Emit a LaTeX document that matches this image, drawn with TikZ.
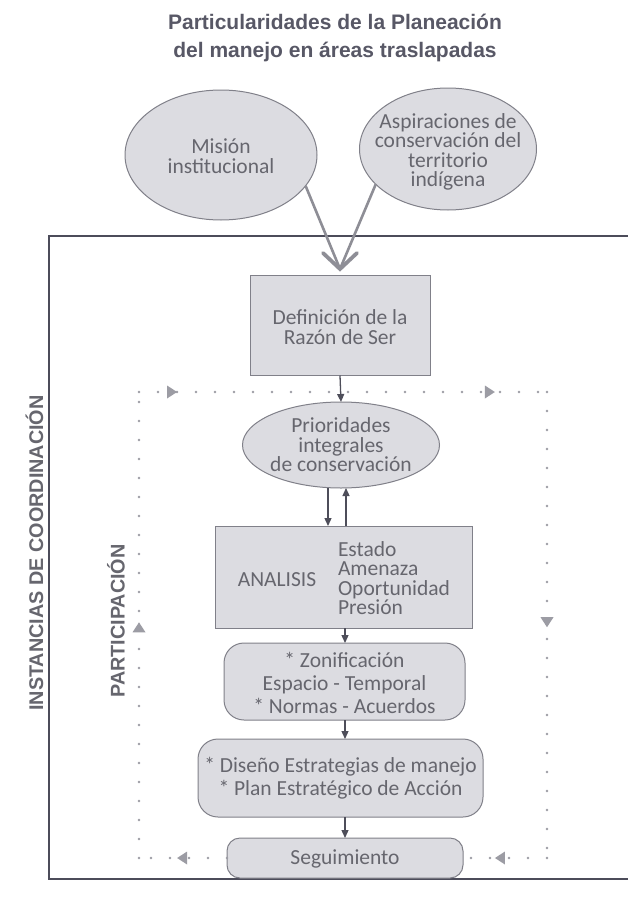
\documentclass[tikz,border=0pt]{standalone}
\usepackage{fontspec}
\setmainfont{Carlito}
\newfontfamily\arialf{Liberation Sans}
\usetikzlibrary{shapes.geometric,arrows.meta,decorations.markings,calc}
\definecolor{txt}{HTML}{66666E}
\definecolor{fillg}{HTML}{DCDCE1}
\definecolor{edge}{HTML}{808089}
\definecolor{dark}{HTML}{4E4E5A}
\definecolor{titlec}{HTML}{585866}
\definecolor{chev}{HTML}{8E8E96}
\definecolor{dotc}{HTML}{9C9CA4}
\definecolor{frame}{HTML}{4C4C5A}
\begin{document}
\begin{tikzpicture}[x=1pt,y=-1pt,
  every node/.style={inner sep=0pt, outer sep=0pt},
  bodytext/.style={font=\fontsize{21.5}{19.5}\selectfont, text=txt, align=center},
  looseText/.style={font=\fontsize{21.5}{23}\selectfont, text=txt, align=center},
  ell/.style={ellipse, draw=edge, fill=fillg, line width=1pt},
  sqbox/.style={rectangle, draw=edge, fill=fillg, line width=1pt},
  rbox/.style={rectangle, rounded corners=20pt, draw=edge, fill=fillg, line width=1pt},
  flow/.style={-{Triangle[length=8pt,width=7pt]}, draw=dark, line width=1.3pt},
  feed/.style={draw=chev, line width=2.6pt},
  dots/.style={draw=dotc, line width=2.8pt, line cap=round, dash pattern=on 0pt off 19pt},
  tri/.style={postaction={decorate}, decoration={markings, mark=at position #1 with {\fill[dotc] (5pt,0pt) -- (-5pt,6.5pt) -- (-5pt,-6.5pt) -- cycle;}}},
  tritwo/.style 2 args={postaction={decorate}, decoration={markings,
     mark=at position #1 with {\fill[dotc] (5pt,0pt) -- (-5pt,6.5pt) -- (-5pt,-6.5pt) -- cycle;},
     mark=at position #2 with {\fill[dotc] (5pt,0pt) -- (-5pt,6.5pt) -- (-5pt,-6.5pt) -- cycle;}}},
  vtext/.style={font=\arialf\bfseries\fontsize{19.8}{24}\selectfont, text=txt, rotate=90},
]
\useasboundingbox (0,0) rectangle (628,899);
\fill[white] (0,0) rectangle (628,899);

% title
\node[font=\arialf\bfseries\fontsize{21}{28}\selectfont, text=titlec, align=center] (title) at (335,38)
  {Particularidades de la Planeación\\del manejo en áreas traslapadas};

% outer frame (instancias de coordinación)
\draw[frame, line width=1.8pt] (628,236) -- (49,236) -- (49,879) -- (628,879);
\node[vtext] (inst) at (34.5,553) {INSTANCIAS DE COORDINACIÓN};
\node[vtext] (part) at (116,621) {PARTICIPACIÓN};

% top ellipses
\node[ell, minimum width=192pt, minimum height=130pt] (mis) at (221,155) {};
\node[bodytext] (mist) at (221,156) {Misión\\institucional};
\node[ell, minimum width=177pt, minimum height=122pt] (asp) at (448,149) {};
\node[bodytext] (aspt) at (448,152) {Aspiraciones de\\conservación del\\territorio\\indígena};

\coordinate (tip) at (340,269);
\draw[feed] (mis.-20) -- (tip);
\draw[feed] (asp.-154) -- (tip);
\draw[feed, line width=3.8pt, line cap=round] ($(tip)+(-17,-16)$) -- (tip) -- ($(tip)+(17,-16)$);

% dotted participation loop
\coordinate (tl) at (139,392);
\coordinate (tr) at (547,392);
\coordinate (br) at (547,858);
\coordinate (bl) at (139,858);

% boxes
\node[sqbox, minimum width=180pt, minimum height=100pt] (def) at (340,325.5) {};
\node[bodytext] (deft) at (340,327) {Definición de la\\Razón de Ser};

\draw[dots, tritwo={0.081}{0.86}] (tl) -- (tr);
\draw[dots, tri=0.494] (tr) -- (br);

\node[ell, minimum width=197pt, minimum height=86pt] (prio) at (341,445) {};
\node[bodytext] (priot) at (341,445) {Prioridades\\integrales\\de conservación};

\node[sqbox, minimum width=257pt, minimum height=102pt] (ana) at (343.5,577) {};
\node[bodytext] (anat) at (277,580) {ANALISIS};
\node[bodytext, align=left, anchor=west] (anal) at (338,578) {Estado\\Amenaza\\Oportunidad\\Presión};

\node[rbox, minimum width=241pt, minimum height=77pt] (zon) at (344.5,681.5) {};
\node[looseText] (zont) at (344.5,683) {* Zonificación\\Espacio - Temporal\\* Normas - Acuerdos};

\node[rbox, minimum width=285pt, minimum height=78pt] (dis) at (340.5,778) {};
\node[looseText] (dist) at (340.5,778) {* Diseño Estrategias de manejo\\* Plan Estratégico de Acción};

\node[rbox, rounded corners=13pt, minimum width=236pt, minimum height=40pt] (seg) at (345,858) {};
\node[bodytext] (segt) at (345,859) {Seguimiento};

\draw[dots, tri=0.56] (br) -- (seg.east);
\draw[dots, tri=0.51] (seg.west) -- (bl);
\draw[dots, tri=0.495] (bl) -- (tl);

% flow arrows
\draw[flow] (def.south) -- (prio.north);
\draw[flow] ([xshift=-13pt]prio.south) -- ([xshift=-13pt]prio.south |- ana.north);
\draw[flow] ([xshift=5pt]prio.south |- ana.north) -- ([xshift=5pt]prio.south);
\draw[flow] ([xshift=1.5pt]ana.south) -- ([xshift=1.5pt]ana.south |- zon.north);
\draw[flow] ([xshift=4.5pt]dis.north |- zon.south) -- ([xshift=4.5pt]dis.north);
\draw[flow] ([xshift=4.5pt]dis.south) -- ([xshift=4.5pt]dis.south |- seg.north);
\end{tikzpicture}
\end{document}
